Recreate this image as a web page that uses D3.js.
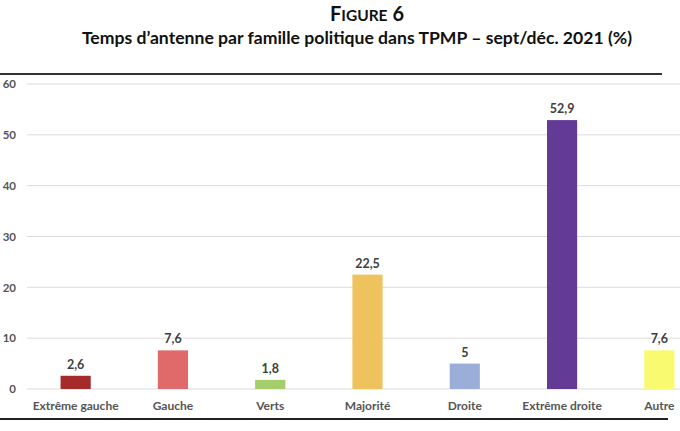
<!DOCTYPE html>
<html><head><meta charset="utf-8">
<script src="https://cdn.jsdelivr.net/npm/d3@7"></script>
<style>body{margin:0;background:#fff}svg{display:block}</style>
</head><body>
<script>
const categories = ["Extrême gauche","Gauche","Verts","Majorité","Droite","Extrême droite","Autre"];
const values = [2.6, 7.6, 1.8, 22.5, 5, 52.9, 7.6];
const valueLabels = ["2,6","7,6","1,8","22,5","5","52,9","7,6"];
const colors = ["#a52a2a","#e06a6a","#a5cd6b","#eec25c","#9badd9","#643a97","#fafa70"];
const yTicks = [0,10,20,30,40,50,60];
const titleParts = [["F",20],["IGURE",15.5],[" 6",20]];
const subtitleText = "Temps d’antenne par famille politique dans TPMP – sept/déc. 2021 (%)";

const W = 680, H = 431;
const svg = d3.select("body").append("svg").attr("width", W).attr("height", H);
const font = "Lato, 'Open Sans', sans-serif";

const t = svg.append("text").attr("x", 367).attr("y", 21).attr("text-anchor","middle")
  .attr("font-family", font).attr("font-weight","bold").attr("fill","#111");
t.selectAll("tspan").data(titleParts).join("tspan")
  .attr("font-size",d=>d[1]).text(d=>d[0]);
svg.append("text").attr("x", 357).attr("y", 44).attr("text-anchor","middle")
  .attr("font-family", font).attr("font-weight","bold").attr("font-size",17.6)
  .attr("fill","#111").text(subtitleText);

svg.append("line").attr("x1",0).attr("x2",662).attr("y1",74).attr("y2",74)
  .attr("stroke","#333").attr("stroke-width",2);
svg.append("line").attr("x1",0).attr("x2",668).attr("y1",419).attr("y2",419)
  .attr("stroke","#222").attr("stroke-width",2);

const x = d3.scaleBand().domain(categories).range([27, 708]).paddingInner(0.69).paddingOuter(0.345);
const y = d3.scaleLinear().domain([0,60]).range([389, 84]);

const g = svg.append("g");
g.selectAll("line.grid").data(yTicks).join("line").attr("class","grid")
  .attr("x1",27).attr("x2",W).attr("y1",d=>y(d)).attr("y2",d=>y(d))
  .attr("stroke","#dcdcdc").attr("stroke-width",1);

const yAxis = d3.axisLeft(y).tickValues(yTicks).tickSize(0).tickPadding(0);
const ya = svg.append("g").attr("transform","translate(16,0)").call(yAxis);
ya.select(".domain").remove();
ya.selectAll("text").attr("font-family",font).attr("font-weight","bold").attr("font-size",11.5).attr("fill","#555")
  .attr("text-anchor","end");

g.selectAll("rect.bar").data(values).join("rect").attr("class","bar")
  .attr("x",(d,i)=>x(categories[i])).attr("width",x.bandwidth())
  .attr("y",d=>y(d)).attr("height",d=>y(0)-y(d)).attr("fill",(d,i)=>colors[i]);

g.selectAll("text.val").data(values).join("text").attr("class","val")
  .attr("x",(d,i)=>x(categories[i])+x.bandwidth()/2).attr("y",d=>y(d)-7)
  .attr("text-anchor","middle").attr("font-family",font).attr("font-weight","bold")
  .attr("font-size",12.5).attr("fill","#404040").text((d,i)=>valueLabels[i]);

const xAxis = d3.axisBottom(x).tickSize(0).tickPadding(0);
const xa = svg.append("g").attr("transform","translate(0,410)").call(xAxis);
xa.select(".domain").remove();
xa.selectAll("text").attr("dy",0).attr("font-family",font).attr("font-weight","bold").attr("font-size",12).attr("fill","#555");
</script>
</body></html>
